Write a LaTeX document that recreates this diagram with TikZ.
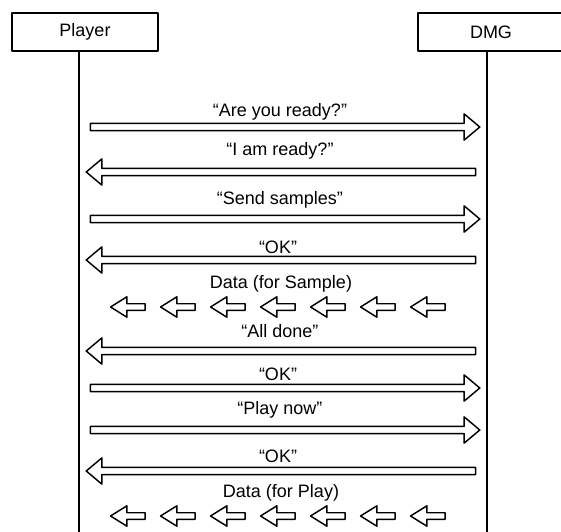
\documentclass[tikz,border=0pt]{standalone}
\usepackage{fontspec}
\setmainfont{Liberation Sans}
\usetikzlibrary{shapes.arrows,positioning}

\tikzset{
  actor/.style={draw, line width=1.2pt, minimum width=109.5pt, minimum height=28.5pt, inner sep=0pt},
  life/.style={line width=1.1pt},
  msg/.style={draw, single arrow, line width=1.1pt, inner sep=2.1pt, minimum height=292pt,
    single arrow head extend=7.2pt, single arrow tip angle=80},
  toright/.style={msg},
  toleft/.style={msg, shape border rotate=180},
  packet/.style={draw, single arrow, shape border rotate=180, line width=1.1pt, inner sep=1.9pt,
    minimum height=26pt, single arrow head extend=5.2pt, single arrow tip angle=64},
  lbl/.style={anchor=base, inner sep=0pt}
}

\begin{document}
\begin{tikzpicture}[x=0.75pt, y=-0.75pt, font=\fontsize{13.5pt}{16pt}\selectfont, line join=round]
	\useasboundingbox (0,0) rectangle (561,532);
	% the two parties
	\node[actor] (player) at (85,32) {Player};
	\node[actor] (dmg) at (491,32) {DMG};
	\coordinate (pl) at (79,532);
	\coordinate (dl) at (487,532);
	\draw[life] (player.south -| pl) -- (pl);
	\draw[life] (dmg.south -| dl) -- (dl);
	% messages
	\path (pl |- 0,127) -- node[toright] (m1) {} (dl |- 0,127);
	\node[lbl] (t1) at (280,116) {“Are you ready?”};
	\path (pl |- 0,172) -- node[toleft] (m2) {} (dl |- 0,172);
	\node[lbl] (t2) at (280,155) {“I am ready?”};
	\path (pl |- 0,219) -- node[toright] (m3) {} (dl |- 0,219);
	\node[lbl] (t3) at (280,204) {“Send samples”};
	\path (pl |- 0,260) -- node[toleft] (m4) {} (dl |- 0,260);
	\node[lbl] (t4) at (278,253) {“OK”};
	\node[lbl] (t5) at (281,288) {Data (for Sample)};
	\foreach \i in {0,...,6}
		\node[packet] (ps\i) at ({130.5+50*\i},307) {};
	\path (pl |- 0,351) -- node[toleft] (m6) {} (dl |- 0,351);
	\node[lbl] (t6) at (280,337) {“All done”};
	\path (pl |- 0,388) -- node[toright] (m7) {} (dl |- 0,388);
	\node[lbl] (t7) at (278,380) {“OK”};
	\path (pl |- 0,430) -- node[toright] (m8) {} (dl |- 0,430);
	\node[lbl] (t8) at (280,414) {“Play now”};
	\path (pl |- 0,471) -- node[toleft] (m9) {} (dl |- 0,471);
	\node[lbl] (t9) at (278,462) {“OK”};
	\node[lbl] (t10) at (281,497) {Data (for Play)};
	\foreach \i in {0,...,6}
		\node[packet] (qs\i) at ({130.5+50*\i},516) {};
\end{tikzpicture}
\end{document}
